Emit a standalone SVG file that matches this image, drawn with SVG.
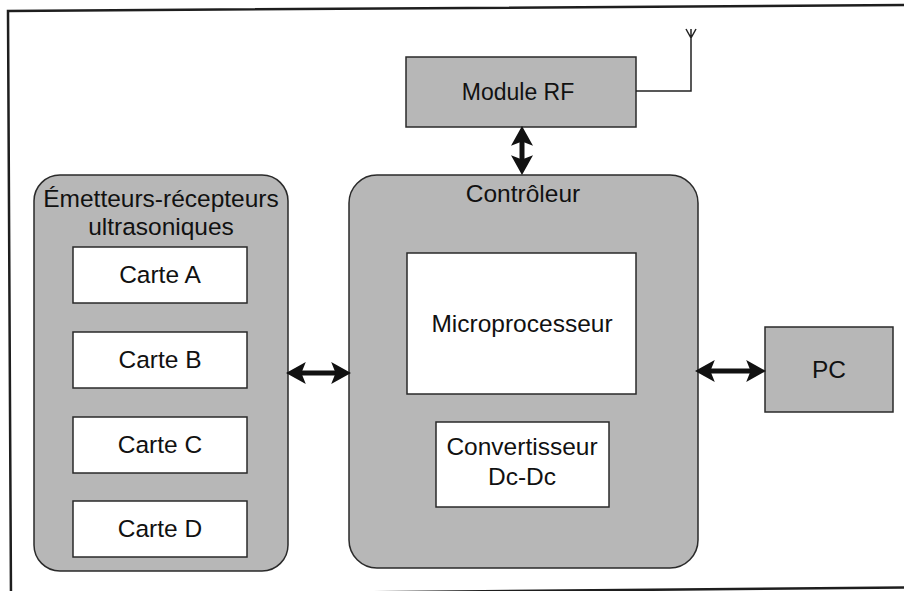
<svg xmlns="http://www.w3.org/2000/svg" width="904" height="591" viewBox="0 0 904 591">
<style>
.grp{fill:#b7b7b7;stroke:#2a2a2a;stroke-width:1.5}
.box{fill:#ffffff;stroke:#2a2a2a;stroke-width:1.5}
.gbox{fill:#b7b7b7;stroke:#2a2a2a;stroke-width:1.5}
text{font-family:"Liberation Sans",Arial,sans-serif;font-size:24.5px;fill:#111;text-anchor:middle}
.sm{font-size:23px}
.arr{stroke:#111;stroke-width:5;fill:none;marker-start:url(#ah);marker-end:url(#ah)}
.wire{stroke:#222;stroke-width:1.5;fill:none}
</style>
<defs>
<marker id="ah" markerUnits="userSpaceOnUse" markerWidth="20" markerHeight="22" viewBox="0 0 18 20" refX="8" refY="10" orient="auto-start-reverse">
<path d="M0,0 L18,10 L0,20 L4,10 z" fill="#111"/>
</marker>
</defs>
<rect x="0" y="0" width="904" height="591" fill="#fff"/>
<path d="M904,5 L8,11 L11,600" fill="none" stroke="#1e1e1e" stroke-width="2.5"/>
<path d="M11,595.5 L904,587.5" fill="none" stroke="#1e1e1e" stroke-width="2.5"/>

<g id="emetteurs">
<rect class="grp" x="34" y="175" width="254" height="396" rx="26"/>
<text x="161" y="207">Émetteurs-récepteurs</text>
<text x="161" y="235">ultrasoniques</text>
</g>
<g id="carteA"><rect class="box" x="73" y="247" width="174" height="56"/><text x="160" y="283">Carte A</text></g>
<g id="carteB"><rect class="box" x="73" y="332" width="174" height="56"/><text x="160" y="368">Carte B</text></g>
<g id="carteC"><rect class="box" x="73" y="417" width="174" height="56"/><text x="160" y="453">Carte C</text></g>
<g id="carteD"><rect class="box" x="73" y="501" width="174" height="56"/><text x="160" y="537">Carte D</text></g>

<g id="controleur">
<rect class="grp" x="349" y="175" width="349" height="393" rx="28"/>
<text x="523" y="202">Contrôleur</text>
</g>
<g id="microprocesseur"><rect class="box" x="407" y="253" width="229" height="141"/><text x="522" y="332">Microprocesseur</text></g>
<g id="convertisseur"><rect class="box" x="436" y="422" width="173" height="85"/><text x="522" y="455">Convertisseur</text><text x="522" y="485">Dc-Dc</text></g>

<g id="moduleRF">
<rect class="gbox" x="406" y="57" width="230" height="70"/>
<text class="sm" x="518" y="100">Module RF</text>
</g>
<g id="antenne">
<path class="wire" d="M636,91 L691,91 L691,29 M691,38 L686,29 M691,38 L696,29"/>
</g>
<g id="pc">
<rect class="gbox" x="765" y="327" width="128" height="85"/>
<text x="829" y="378">PC</text>
</g>

<g id="connectors">
<line class="arr" x1="522" y1="137" x2="522" y2="164"/>
<line class="arr" x1="297" y1="373" x2="340" y2="373"/>
<line class="arr" x1="706" y1="371" x2="755" y2="371"/>
</g>
</svg>
